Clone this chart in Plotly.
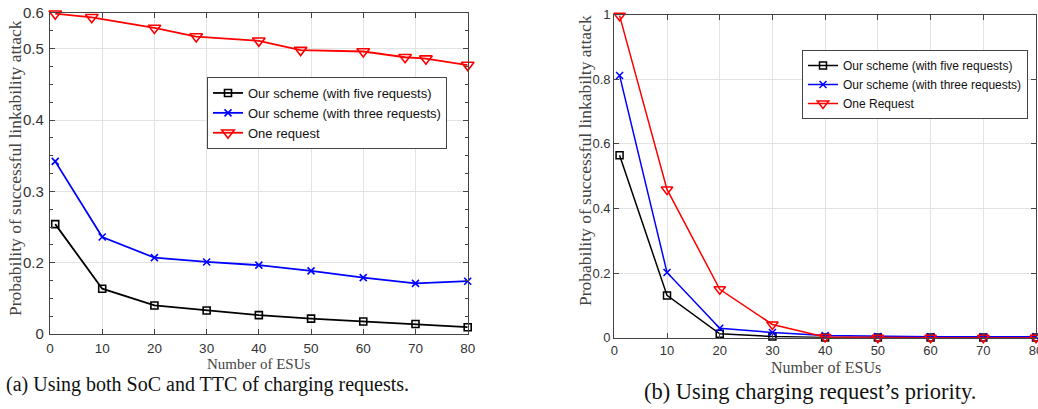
import numpy as np
import plotly.graph_objects as go

# ---------------- data: (a) left chart ----------------
a_x_five = [1, 10, 20, 30, 40, 50, 60, 70, 80]
a_y_five = [0.254, 0.127, 0.080, 0.066, 0.053, 0.043, 0.035, 0.028, 0.019]
a_x_three = [1, 10, 20, 30, 40, 50, 60, 70, 80]
a_y_three = [0.342, 0.236, 0.207, 0.201, 0.193, 0.177, 0.158, 0.142, 0.148]
a_x_one = [1, 8, 20, 28, 40, 48, 60, 68, 72, 80]
a_y_one = [0.598, 0.588, 0.558, 0.534, 0.522, 0.498, 0.496, 0.488, 0.486, 0.477]

# left y axis labels (unevenly spaced on the original axis)
a_ytick_labels = ["0", "0.2", "0.3", "0.4", "0.5", "0.6"]
a_ytick_values = [0.0, 0.2, 0.3, 0.4, 0.5, 0.6]
a_ytick_slots = [0.0, 1.0, 2.0, 3.0, 4.0, 4.5]   # axis position of each label

# ---------------- data: (b) right chart ----------------
b_x = [1, 10, 20, 30, 40, 50, 60, 70, 80]
b_y_five = [0.565, 0.131, 0.012, 0.004, 0.001, 0.0005, 0.0005, 0.0005, 0.0005]
b_y_three = [0.812, 0.202, 0.029, 0.016, 0.007, 0.004, 0.003, 0.003, 0.003]
b_y_one = [0.997, 0.459, 0.150, 0.041, 0.002, 0.0, 0.0, 0.0, 0.0]

x_ticks = [0, 10, 20, 30, 40, 50, 60, 70, 80]

names_a = ["Our scheme (with five requests)", "Our scheme (with three requests)", "One request"]
names_b = ["Our scheme (with five requests)", "Our scheme (with three requests)", "One Request"]


def a_map(v):
    return np.interp(v, a_ytick_values, a_ytick_slots)


W, H = 1038, 409
BLACK, BLUE, RED = "#000000", "#0000ff", "#ff0000"

fig = go.Figure()

styles = [
    dict(color=BLACK, symbol="square-open", size=7),
    dict(color=BLUE, symbol="x-thin", size=7),
    dict(color=RED, symbol="triangle-down-open", size=11),
]

a_series = [(a_x_five, a_y_five), (a_x_three, a_y_three), (a_x_one, a_y_one)]
for (xs, ys), nm, st in zip(a_series, names_a, styles):
    fig.add_trace(go.Scatter(
        x=xs, y=a_map(ys), name=nm, mode="lines+markers",
        line=dict(color=st["color"], width=1.8),
        marker=dict(symbol=st["symbol"], size=st["size"], color=st["color"],
                    line=dict(color=st["color"], width=1.6)),
        cliponaxis=False, xaxis="x", yaxis="y", legend="legend",
    ))

b_series = [b_y_five, b_y_three, b_y_one]
for ys, nm, st in zip(b_series, names_b, styles):
    fig.add_trace(go.Scatter(
        x=b_x, y=ys, name=nm, mode="lines+markers",
        line=dict(color=st["color"], width=1.5),
        marker=dict(symbol=st["symbol"], size=st["size"] - 1 if st["size"] > 8 else st["size"],
                    color=st["color"], line=dict(color=st["color"], width=1.5)),
        cliponaxis=False, xaxis="x2", yaxis="y2", legend="legend2",
    ))

sans = "Liberation Sans, Arial, sans-serif"
serif = "Liberation Serif, DejaVu Serif, serif"


def axis_style(font_size, standoff):
    return dict(
        showline=True, linecolor="#444444", linewidth=1.2, mirror="allticks",
        ticks="inside", ticklen=5, tickcolor="#444444", tickwidth=1,
        showgrid=True, gridcolor="#e3e3e3", gridwidth=1, zeroline=False,
        automargin=False, ticklabelstandoff=standoff, ticklabeloverflow="allow",
        tickfont=dict(family=sans, size=font_size, color="#333333"),
    )


fig.update_layout(
    width=W, height=H,
    margin=dict(l=0, r=0, t=0, b=0, pad=0, autoexpand=False),
    paper_bgcolor="white", plot_bgcolor="white",
    xaxis=dict(domain=[50 / W, 467.7 / W], range=[0, 80], tickmode="array",
               tickvals=x_ticks, anchor="y", **axis_style(13.5, 2)),
    yaxis=dict(domain=[1 - 334 / H, 1 - 13 / H], range=[0, 4.5], tickmode="array",
               tickvals=a_ytick_slots, ticktext=a_ytick_labels, anchor="x",
               minor=dict(ticks="inside", ticklen=3, tickcolor="#444444",
                          tickmode="linear", tick0=0, dtick=0.25, showgrid=False),
               **axis_style(15, 2)),
    xaxis2=dict(domain=[614.3 / W, 1036 / W], range=[0, 80], tickmode="array",
                tickvals=x_ticks, anchor="y2", **axis_style(13, 1)),
    yaxis2=dict(domain=[1 - 337.7 / H, 1 - 14.7 / H], range=[0, 1], tickmode="linear",
                tick0=0, dtick=0.2, anchor="x2", **axis_style(13, 0)),
    legend=dict(x=207 / W, y=1 - 77 / H, xanchor="left", yanchor="top",
                bgcolor="white", bordercolor="#444444", borderwidth=1,
                font=dict(family=sans, size=13, color="#111111"),
                itemwidth=30, tracegroupgap=0),
    legend2=dict(x=802 / W, y=1 - 50 / H, xanchor="left", yanchor="top",
                 bgcolor="white", bordercolor="#444444", borderwidth=1,
                 font=dict(family=sans, size=12, color="#111111"),
                 itemwidth=30, tracegroupgap=0),
    showlegend=True,
)

ann = [
    dict(text="Probability of successful linkability attack", x=15 / W, y=1 - 168 / H,
         textangle=-90, font=dict(family=serif, size=17.5, color="#444444")),
    dict(text="Probability of successful linkabilty attack", x=585 / W, y=1 - 161 / H,
         textangle=-90, font=dict(family=serif, size=17.5, color="#444444")),
    dict(text="Number of ESUs", x=258.5 / W, y=1 - 363.5 / H,
         font=dict(family=serif, size=15, color="#444444")),
    dict(text="Number of ESUs", x=825.8 / W, y=1 - 367 / H,
         font=dict(family=serif, size=16, color="#444444")),
    dict(text="(a) Using both SoC and TTC of charging requests.", x=207.5 / W, y=1 - 384 / H,
         font=dict(family=serif, size=20, color="#111111")),
    dict(text="(b) Using charging request\u2019s priority.", x=810 / W, y=1 - 391.7 / H,
         font=dict(family=serif, size=22.5, color="#111111")),
]
for a in ann:
    a.update(xref="paper", yref="paper", showarrow=False, xanchor="center", yanchor="middle")
fig.update_layout(annotations=ann)

fig.write_html("out.html", config={"displayModeBar": False},
               post_script="document.body.style.margin='0px';document.body.style.padding='0px';document.body.style.overflow='hidden';")
